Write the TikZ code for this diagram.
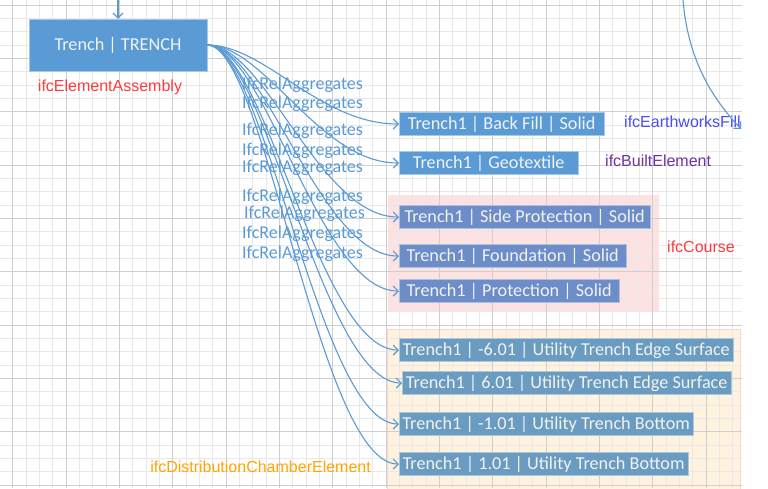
\documentclass[tikz,border=0pt]{standalone}
\usepackage{fontspec}
\setmainfont{Carlito}
\newfontfamily\arialfont{Liberation Sans}
\usetikzlibrary{arrows.meta}
\definecolor{ifcblue}{HTML}{5B9BD5}
\definecolor{courseblue}{HTML}{6C8DC8}
\definecolor{chamberblue}{HTML}{6A9BC0}
\definecolor{coursebg}{HTML}{FDE2E2}
\definecolor{chamberbg}{HTML}{FFF2DE}
\definecolor{chamberrim}{HTML}{F8D6D2}
\definecolor{lblred}{HTML}{FF3B3B}
\definecolor{lblfill}{HTML}{4D4DF5}
\definecolor{lblbuilt}{HTML}{7030A0}
\definecolor{lblchamber}{HTML}{FFA500}
\tikzset{
    minorline/.style={draw=black!9, line width=0.6pt},
    majorline/.style={draw=black!19, line width=0.6pt},
    part/.style={draw=#1!55!white, fill=#1, text=white!95!black, anchor=west,
        minimum height=23pt, inner xsep=0pt, inner ysep=0pt,
        font=\fontsize{18.2}{20}\selectfont},
    rel/.style={draw=ifcblue, line width=1.1pt, -{Straight Barb[length=5pt,width=10pt]}},
    relname/.style={text=ifcblue, anchor=west, inner sep=0pt, font=\fontsize{18}{20}\selectfont},
    ifcname/.style={text=#1, inner sep=0pt, font=\arialfont\fontsize{16}{18}\selectfont},
}
\begin{document}
\begin{tikzpicture}[x=1pt,y=-1pt]
    \useasboundingbox (0,0) rectangle (768,488);
    \fill[white] (0,0) rectangle (768,488);
    \fill[coursebg] (388,195) rectangle (659,312);
    \filldraw[fill=chamberbg, draw=chamberrim, line width=1pt] (387,329) rectangle (740,492);
    \foreach \i in {0,...,54} {
        \draw[minorline] ({12.7+13.333*\i},0) -- ++(0,488);
    }
    \foreach \i in {0,...,36} {
        \draw[minorline] (0,{5+13.333*\i}) -- ++(742,0);
    }
    \foreach \i in {0,...,13} {
        \draw[majorline] ({12.7+53.333*\i},0) -- ++(0,488);
    }
    \foreach \i in {0,...,9} {
        \draw[majorline] (0,{5+53.333*\i}) -- ++(742,0);
    }

    \node[part=ifcblue, anchor=center, minimum width=178pt, minimum height=52pt] (trench) at (118,45) {Trench | TRENCH};
    \coordinate (parentin) at (118,0);
    \draw[rel] (parentin) -- (trench.north);

    \foreach \n/\x/\y/\w/\c/\t in {
        backfill/399/124/205/ifcblue/Trench1 | Back Fill | Solid,
        geotextile/399/163/179/ifcblue/Trench1 | Geotextile,
        sideprot/399/217/251/courseblue/Trench1 | Side Protection | Solid,
        foundation/399/256/227/courseblue/Trench1 | Foundation | Solid,
        protection/399/291/220/courseblue/Trench1 | Protection | Solid,
        edgeneg/399/350/334/chamberblue/Trench1 | -6.01 | Utility Trench Edge Surface,
        edgepos/402/383/329/chamberblue/Trench1 | 6.01 | Utility Trench Edge Surface,
        bottomneg/399/424/294/chamberblue/Trench1 | -1.01 | Utility Trench Bottom,
        bottompos/399/464/289/chamberblue/Trench1 | 1.01 | Utility Trench Bottom} {
        \node[part=\c, minimum width=\w pt] (\n) at (\x,\y) {\t};
        \draw[rel] (trench.east) .. controls +(58,0) and +(-80,0) .. (\n.west);
    }

    \foreach \i/\x/\y in {1/242/85, 2/242/104, 3/242/131, 4/242/151, 5/242/168,
        6/242/197, 7/244/214, 8/242/234, 9/242/254} {
        \node[relname] (agg\i) at (\x,\y) {IfcRelAggregates};
    }

    \node[ifcname=lblred] (assembly) at (110,87) {ifcElementAssembly};
    \node[ifcname=lblfill, anchor=west] (earthfill) at (624,122) {ifcEarthworksFill};
    \node[ifcname=lblbuilt, anchor=west] (built) at (605,161) {ifcBuiltElement};
    \node[ifcname=lblred, anchor=west] (course) at (667,247) {ifcCourse};
    \node[ifcname=lblchamber, anchor=east] (chamber) at (371,467) {ifcDistributionChamberElement};

    \coordinate (fillin) at (683,0);
    \coordinate (fillend) at (741,129);
    \draw[rel] (fillin) .. controls (688,60) and (712,98) .. (fillend);
\end{tikzpicture}
\end{document}
